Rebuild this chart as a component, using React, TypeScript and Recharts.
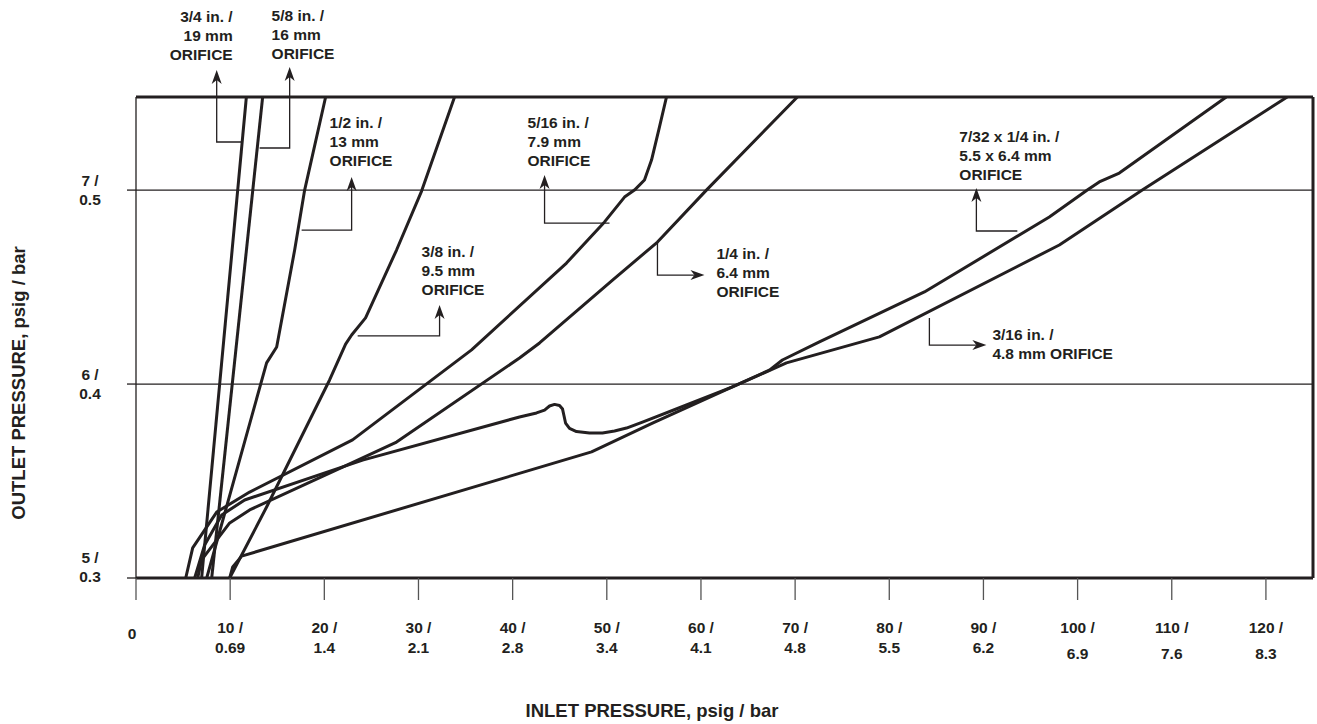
import React from 'react'
import { LineChart, Line, XAxis, YAxis, ReferenceLine } from 'recharts'

const INK = '#231f20'
const FONT = '"Liberation Sans", Arial, Helvetica, sans-serif'

const W = 1317
const H = 724
const PLOT = { left: 136, top: 97, right: 1313, bottom: 578 }

const X_MAX = 125
const Y_MIN = 5
const Y_MAX = 7.48

// inlet pressure ticks (psig) and the bar value printed under each
const INLET_TICKS = [0, 10, 20, 30, 40, 50, 60, 70, 80, 90, 100, 110, 120]
const INLET_BAR = ['', '0.69', '1.4', '2.1', '2.8', '3.4', '4.1', '4.8', '5.5', '6.2', '6.9', '7.6', '8.3']

// outlet pressure ticks (psig) and bar values
const OUTLET_TICKS = [5, 6, 7]
const OUTLET_BAR = ['0.3', '0.4', '0.5']

// curves: [inlet psig, outlet psig]
const CURVE_19MM: [number, number][] = [[6.97, 5], [11.72, 7.48]]
const CURVE_16MM: [number, number][] = [[8.04, 5], [13.45, 7.48]]
const CURVE_13MM: [number, number][] = [
  [7.51, 5], [13.87, 6.109], [14.94, 6.191], [16.85, 6.691], [17.91, 7.0], [20.14, 7.48],
]
const CURVE_9_5MM: [number, number][] = [
  [9.95, 5], [13.87, 5.366], [20.56, 6.021], [22.26, 6.206], [22.9, 6.253], [24.38, 6.341],
  [27.67, 6.691], [30.33, 6.995], [33.83, 7.48],
]
const CURVE_7_9MM: [number, number][] = [
  [5.28, 5], [6.02, 5.155], [8.57, 5.34], [12.07, 5.443], [23.0, 5.712], [35.64, 6.176],
  [45.72, 6.624], [49.76, 6.836], [51.88, 6.964], [52.94, 7.0], [54.0, 7.052], [54.75, 7.155],
  [55.59, 7.325], [56.34, 7.48],
]
const CURVE_6_4MM: [number, number][] = [
  [6.55, 5], [6.97, 5.093], [9.95, 5.284], [12.07, 5.351], [21.94, 5.572], [27.67, 5.701],
  [40.73, 6.134], [42.86, 6.212], [50.61, 6.536], [55.38, 6.732], [60.58, 7.0], [70.24, 7.48],
]
const CURVE_5_5X6_4MM: [number, number][] = [
  [6.23, 5], [7.29, 5.17], [9.1, 5.325], [11.54, 5.402], [24.07, 5.608], [40.73, 5.83],
  [42.54, 5.851], [43.39, 5.866], [43.92, 5.887], [44.45, 5.895], [44.98, 5.889], [45.3, 5.871],
  [45.46, 5.835], [45.62, 5.799], [46.04, 5.771], [46.78, 5.755], [48.16, 5.748], [49.54, 5.748],
  [50.82, 5.758], [52.09, 5.773], [53.79, 5.804], [58.46, 5.892], [63.34, 5.985], [67.27, 6.072],
  [68.65, 6.124], [72.58, 6.217], [83.73, 6.475], [97.0, 6.861], [101.03, 7.0], [102.3, 7.042],
  [104.43, 7.088], [115.79, 7.48],
]
const CURVE_4_8MM: [number, number][] = [
  [9.95, 5], [10.27, 5.057], [11.22, 5.113], [48.38, 5.65], [54.85, 5.799], [63.34, 5.985],
  [69.08, 6.109], [78.95, 6.243], [98.06, 6.717], [106.87, 7.0], [122.26, 7.48],
]

const SERIES = [
  { name: '3/4 in.', points: CURVE_19MM },
  { name: '5/8 in.', points: CURVE_16MM },
  { name: '1/2 in.', points: CURVE_13MM },
  { name: '3/8 in.', points: CURVE_9_5MM },
  { name: '5/16 in.', points: CURVE_7_9MM },
  { name: '1/4 in.', points: CURVE_6_4MM },
  { name: '7/32 x 1/4 in.', points: CURVE_5_5X6_4MM },
  { name: '3/16 in.', points: CURVE_4_8MM },
]

// callouts, in data units: leader runs from the curve to the arrow tip
const NOTES = [
  { lines: ['3/4 in. /', '19 mm', 'ORIFICE'], anchor: 'end', at: [10.27, 7.893],
    leader: [[11.22, 7.248], [8.57, 7.248], [8.57, 7.619]] },
  { lines: ['5/8 in. /', '16 mm', 'ORIFICE'], anchor: 'start', at: [14.4, 7.898],
    leader: [[13.13, 7.217], [16.32, 7.217], [16.32, 7.635]] },
  { lines: ['1/2 in. /', '13 mm', 'ORIFICE'], anchor: 'start', at: [20.56, 7.351],
    leader: [[17.59, 6.794], [22.9, 6.794], [22.9, 7.068]] },
  { lines: ['3/8 in. /', '9.5 mm', 'ORIFICE'], anchor: 'start', at: [30.33, 6.681],
    leader: [[23.54, 6.248], [32.24, 6.248], [32.24, 6.408]] },
  { lines: ['5/16 in. /', '7.9 mm', 'ORIFICE'], anchor: 'start', at: [41.58, 7.346],
    leader: [[50.29, 6.83], [43.39, 6.83], [43.39, 7.078]] },
  { lines: ['1/4 in. /', '6.4 mm', 'ORIFICE'], anchor: 'start', at: [61.64, 6.671],
    leader: [[55.38, 6.732], [55.38, 6.562], [60.37, 6.562]] },
  { lines: ['7/32 x 1/4 in. /', '5.5 x 6.4 mm', 'ORIFICE'], anchor: 'start', at: [87.44, 7.274],
    leader: [[93.6, 6.789], [89.25, 6.789], [89.25, 7.011]] },
  { lines: ['3/16 in. /', '4.8 mm ORIFICE'], anchor: 'start', at: [90.95, 6.258],
    leader: [[84.26, 6.341], [84.26, 6.201], [90.31, 6.201]] },
]

const sx = (x: number) => PLOT.left + (x / X_MAX) * (PLOT.right - PLOT.left)
const sy = (y: number) => PLOT.bottom - ((y - Y_MIN) / (Y_MAX - Y_MIN)) * (PLOT.bottom - PLOT.top)

const textStyle = { fontFamily: FONT, fontWeight: 700, fontSize: 15.5, fill: INK }

function InletTick(props: any) {
  const { x, payload } = props
  const v = payload.value
  if (v === 0) {
    return <text x={x - 4} y={PLOT.bottom + 60.5} textAnchor="middle" style={textStyle}>0</text>
  }
  const i = INLET_TICKS.indexOf(v)
  const drop = v >= 100 ? 6 : 0
  return (
    <text textAnchor="middle" style={textStyle}>
      <tspan x={x} y={PLOT.bottom + 54.5}>{`${v} /`}</tspan>
      <tspan x={x} y={PLOT.bottom + 74.5 + drop}>{INLET_BAR[i]}</tspan>
    </text>
  )
}

function OutletTick(props: any) {
  const { y, payload } = props
  const v = payload.value
  const i = OUTLET_TICKS.indexOf(v)
  const lift = v === Y_MIN ? 11 : 0
  return (
    <text textAnchor="middle" style={textStyle}>
      <tspan x={90} y={y - 10 - lift + 5.5}>{`${v} /`}</tspan>
      <tspan x={90} y={y + 9 - lift + 5.5}>{OUTLET_BAR[i]}</tspan>
    </text>
  )
}

function Leader({ pts }: { pts: number[][] }) {
  const p = pts.map(([x, y]) => [sx(x), sy(y)])
  const [tx, ty] = p[p.length - 1]
  const [ax, ay] = p[p.length - 2]
  const len = Math.hypot(tx - ax, ty - ay)
  const ux = (tx - ax) / len
  const uy = (ty - ay) / len
  const L = 14
  const hw = 5
  const bx = tx - ux * L
  const by = ty - uy * L
  const nx = tx - ux * (L - 4)
  const ny = ty - uy * (L - 4)
  const head = `${tx},${ty} ${bx - uy * hw},${by + ux * hw} ${nx},${ny} ${bx + uy * hw},${by - ux * hw}`
  const line = [...p.slice(0, -1), [nx, ny]].map((q) => q.join(',')).join(' ')
  return (
    <g>
      <polyline points={line} fill="none" stroke={INK} strokeWidth={1.3} />
      <polygon points={head} fill={INK} />
    </g>
  )
}

export default function App() {
  return (
    <div style={{ position: 'absolute', left: 0, top: 0, width: W, height: H, background: '#fff' }}>
      <LineChart
        width={W}
        height={H}
        margin={{ top: PLOT.top, right: W - PLOT.right, bottom: H - PLOT.bottom - 100, left: PLOT.left - 100 }}
      >
        <XAxis
          type="number"
          dataKey="x"
          domain={[0, X_MAX]}
          ticks={INLET_TICKS}
          interval={0}
          height={100}
          tickSize={22}
          axisLine={{ stroke: INK, strokeWidth: 3 }}
          tickLine={{ stroke: '#555', strokeWidth: 1.3 }}
          tick={<InletTick />}
          allowDataOverflow
        />
        <YAxis
          type="number"
          dataKey="y"
          domain={[Y_MIN, Y_MAX]}
          ticks={OUTLET_TICKS}
          interval={0}
          width={100}
          tickSize={9}
          axisLine={{ stroke: INK, strokeWidth: 1.3 }}
          tickLine={{ stroke: INK, strokeWidth: 1.3 }}
          tick={<OutletTick />}
          allowDataOverflow
        />
        <ReferenceLine y={6} stroke={INK} strokeWidth={1.3} ifOverflow="visible" />
        <ReferenceLine y={7} stroke={INK} strokeWidth={1.3} ifOverflow="visible" />
        <ReferenceLine y={Y_MAX} stroke={INK} strokeWidth={3} ifOverflow="visible" />
        <ReferenceLine x={X_MAX} stroke={INK} strokeWidth={3} ifOverflow="visible" />
        {SERIES.map((s) => (
          <Line
            key={s.name}
            name={s.name}
            data={s.points.map(([x, y]) => ({ x, y }))}
            dataKey="y"
            type="linear"
            stroke={INK}
            strokeWidth={3}
            strokeLinejoin="round"
            dot={false}
            activeDot={false}
            isAnimationActive={false}
          />
        ))}
      </LineChart>
      <svg width={W} height={H} style={{ position: 'absolute', left: 0, top: 0, pointerEvents: 'none' }}>
        <text x={652} y={716.6} textAnchor="middle" style={{ ...textStyle, fontSize: 18.5 }}>
          INLET PRESSURE, psig / bar
        </text>
        <text
          x={18}
          y={383 + 6.6}
          transform="rotate(-90, 18, 383)"
          textAnchor="middle"
          style={{ ...textStyle, fontSize: 18.5 }}
        >
          OUTLET PRESSURE, psig / bar
        </text>
        {NOTES.map((n) => (
          <g key={n.lines[0]}>
            <Leader pts={n.leader} />
            <text textAnchor={n.anchor as any} style={textStyle}>
              {n.lines.map((l, k) => (
                <tspan key={k} x={sx(n.at[0])} y={sy(n.at[1]) + 5.5 + k * 19}>{l}</tspan>
              ))}
            </text>
          </g>
        ))}
      </svg>
    </div>
  )
}
